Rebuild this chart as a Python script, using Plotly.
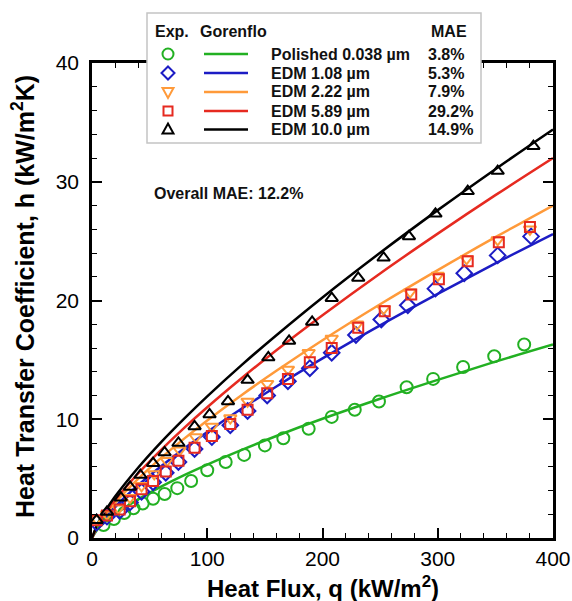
import plotly.graph_objects as go

W, H = 572, 601

# ---------------- data ----------------
Q_POL = [10, 19, 28, 36, 44, 53, 63, 74, 86, 100, 116, 132, 150, 166, 188, 208, 228, 249, 273, 296, 322, 349, 375]
H_POL = [1.1, 1.6, 2.1, 2.5, 2.9, 3.3, 3.7, 4.2, 4.8, 5.7, 6.4, 7.0, 7.8, 8.4, 9.2, 10.2, 10.8, 11.5, 12.7, 13.4, 14.4, 15.3, 16.3]

Q_108 = [4, 13, 24, 33, 43, 53, 64, 75, 89, 104, 120, 135, 152, 170, 189, 208, 229, 251, 274, 298, 323, 352, 381]
H_108 = [1.3, 1.8, 2.3, 3.0, 3.9, 4.7, 5.5, 6.4, 7.5, 8.5, 9.5, 10.7, 12.0, 13.2, 14.3, 15.6, 17.1, 18.4, 19.6, 21.0, 22.3, 23.8, 25.4]

Q_222 = [4, 13, 23, 33, 43, 54, 65, 76, 90, 104, 120, 135, 152, 170, 188, 208, 230, 253, 276, 300, 325, 352, 380]
H_222 = [1.6, 2.0, 2.5, 3.4, 4.4, 5.4, 6.5, 7.4, 8.5, 9.4, 10.1, 11.5, 13.0, 14.2, 15.6, 16.8, 18.0, 19.3, 20.7, 22.1, 23.5, 25.1, 26.0]

Q_589 = [4, 13, 24, 33, 43, 53, 64, 75, 89, 104, 120, 135, 152, 170, 189, 208, 231, 254, 277, 301, 326, 353, 380]
H_589 = [1.5, 1.9, 2.4, 3.1, 4.1, 4.8, 5.6, 6.5, 7.6, 8.6, 9.6, 10.8, 12.2, 13.4, 14.8, 16.0, 17.7, 19.1, 20.5, 21.8, 23.3, 24.9, 26.2]

Q_100 = [4, 13, 25, 33, 42, 53, 63, 75, 89, 102, 118, 135, 153, 171, 191, 208, 231, 253, 275, 298, 326, 352, 383]
H_100 = [1.5, 2.2, 3.4, 4.3, 5.3, 6.3, 7.2, 8.0, 9.4, 10.4, 11.5, 13.3, 15.2, 16.6, 18.2, 20.2, 21.9, 23.6, 25.4, 27.3, 29.2, 30.9, 33.0]

# Gorenflo correlation curves
Q_LINE = [0, 5, 10, 20, 40, 60, 80, 100, 130, 160, 200, 250, 300, 350, 400]
G_POL = [0, 0.76, 1.23, 2.00, 3.25, 4.32, 5.29, 6.18, 7.42, 8.59, 10.04, 11.73, 13.32, 14.85, 16.3]
G_108 = [0, 0.92, 1.55, 2.63, 4.45, 6.05, 7.54, 8.93, 10.90, 12.76, 15.12, 17.91, 20.56, 23.13, 25.6]
G_222 = [0, 1.05, 1.76, 2.96, 4.98, 6.75, 8.37, 9.90, 12.05, 14.08, 16.65, 19.68, 22.56, 25.33, 28.0]
G_589 = [0, 1.10, 1.87, 3.19, 5.43, 7.42, 9.27, 11.01, 13.47, 15.81, 18.76, 22.28, 25.63, 28.87, 32.0]
G_100 = [0, 1.21, 2.05, 3.49, 5.92, 8.08, 10.06, 11.93, 14.58, 17.08, 20.26, 24.02, 27.61, 31.06, 34.4]

LABELS = ["Polished 0.038 µm", "EDM 1.08 µm", "EDM 2.22 µm", "EDM 5.89 µm", "EDM 10.0 µm"]
MAE = ["3.8%", "5.3%", "7.9%", "29.2%", "14.9%"]
COLORS = ["#22b022", "#1c1cc4", "#ff9a3a", "#e62a20", "#000000"]
SYMBOLS = ["circle-open", "diamond-open", "triangle-down-open", "square-open", "triangle-up-open"]
MSIZE = [12, 12, 11, 10, 11]

X_TICKS = [0, 100, 200, 300, 400]
Y_TICKS = [0, 10, 20, 30, 40]

FONT = "Liberation Sans, Arial, Helvetica, sans-serif"

# plot area in pixels
PL, PR, PT, PB = 92, 553, 63, 538

def px(x):
    return x / W

def py(y):
    return 1 - y / H

fig = go.Figure()

exp_q = [Q_POL, Q_108, Q_222, Q_589, Q_100]
exp_h = [H_POL, H_108, H_222, H_589, H_100]
lines_g = [G_POL, G_108, G_222, G_589, G_100]

for i in range(5):
    fig.add_trace(go.Scatter(x=Q_LINE, y=lines_g[i], mode="lines",
                             line=dict(color=COLORS[i], width=2.5, shape="spline"),
                             showlegend=False, hoverinfo="skip"))
for i in range(5):
    fig.add_trace(go.Scatter(x=exp_q[i], y=exp_h[i], mode="markers",
                             marker=dict(symbol=SYMBOLS[i], size=MSIZE[i], color=COLORS[i],
                                         line=dict(color=COLORS[i], width=2)),
                             showlegend=False, name=LABELS[i]))

axis_common = dict(showline=True, linecolor="black", linewidth=2.5, mirror="allticks",
                   ticks="inside", ticklen=10, tickwidth=2, tickcolor="black",
                   showgrid=False, zeroline=False,
                   tickfont=dict(family=FONT, size=21, color="black"))

fig.update_xaxes(range=[0, 400], tickvals=X_TICKS, ticktext=[str(v) for v in X_TICKS],
                 domain=[px(PL), px(PR)],
                 minor=dict(dtick=20, ticks="inside", ticklen=5, tickwidth=1, tickcolor="black"),
                 ticklabelstandoff=0, **axis_common)
fig.update_yaxes(range=[0, 40], tickvals=Y_TICKS, ticktext=[str(v) for v in Y_TICKS],
                 domain=[py(PB), py(PT)],
                 minor=dict(dtick=2, ticks="inside", ticklen=5, tickwidth=1, tickcolor="black"),
                 ticklabelstandoff=6, **axis_common)

shapes = []
annotations = []

# legend box
shapes.append(dict(type="rect", xref="paper", yref="paper", layer="above",
                   x0=px(147), x1=px(481), y0=py(143), y1=py(13),
                   fillcolor="white", line=dict(color="#c4c4c4", width=1.5)))

row_y = [54, 73, 92, 111, 129.5]
mark_paths = [
    None,
    "M0,6.5 L6.5,0 L0,-6.5 L-6.5,0 Z",
    "M-5.5,4 L5.5,4 L0,-6 Z",
    None,
    "M-5.5,-4 L5.5,-4 L0,6 Z",
]
for i in range(5):
    yy = py(row_y[i])
    shapes.append(dict(type="line", xref="paper", yref="paper", layer="above",
                       x0=px(204), x1=px(248), y0=yy, y1=yy,
                       line=dict(color=COLORS[i], width=2.5)))
    common = dict(xref="paper", yref="paper", layer="above",
                  xsizemode="pixel", ysizemode="pixel",
                  xanchor=px(168), yanchor=yy,
                  line=dict(color=COLORS[i], width=2), fillcolor="rgba(0,0,0,0)")
    if i == 0:
        shapes.append(dict(type="circle", x0=-5.5, x1=5.5, y0=-5.5, y1=5.5, **common))
    elif i == 3:
        shapes.append(dict(type="rect", x0=-4.5, x1=4.5, y0=-4.5, y1=4.5, **common))
    else:
        shapes.append(dict(type="path", path=mark_paths[i], **common))
    annotations.append(dict(text="<b>%s</b>" % LABELS[i], xref="paper", yref="paper",
                            x=px(269), y=yy, xanchor="left", yanchor="middle", showarrow=False,
                            font=dict(family=FONT, size=16, color="#111111")))
    annotations.append(dict(text="<b>%s</b>" % MAE[i], xref="paper", yref="paper",
                            x=px(426), y=yy, xanchor="left", yanchor="middle", showarrow=False,
                            font=dict(family=FONT, size=16, color="#111111")))

for txt, xx, anchor in [("Exp.", 153, "left"), ("Gorenflo", 198, "left"), ("MAE", 469, "right")]:
    annotations.append(dict(text="<b>%s</b>" % txt, xref="paper", yref="paper",
                            x=px(xx), y=py(32), xanchor=anchor, yanchor="middle", showarrow=False,
                            font=dict(family=FONT, size=16, color="#111111")))

annotations.append(dict(text="<b>Overall MAE: 12.2%</b>", xref="paper", yref="paper",
                        x=px(152), y=py(194), xanchor="left", yanchor="middle", showarrow=False,
                        font=dict(family=FONT, size=16, color="#111111")))

# axis titles
annotations.append(dict(text="<b>Heat Flux, q (kW/m<sup>2</sup>)</b>", xref="paper", yref="paper",
                        x=px(323), y=py(587), xanchor="center", yanchor="middle", showarrow=False,
                        font=dict(family=FONT, size=24, color="black")))
annotations.append(dict(text="<b>Heat Transfer Coefficient, h (kW/m<sup>2</sup>K)</b>", xref="paper", yref="paper",
                        x=px(23), y=py(297), xanchor="center", yanchor="middle", showarrow=False,
                        textangle=-90, font=dict(family=FONT, size=25, color="black")))

fig.update_layout(width=W, height=H, margin=dict(l=0, r=0, t=0, b=0, autoexpand=False),
                  paper_bgcolor="white", plot_bgcolor="white",
                  shapes=shapes, annotations=annotations,
                  font=dict(family=FONT), showlegend=False)

fig.write_html("out.html", config={"displayModeBar": False},
               post_script="document.body.style.margin='0px';document.body.style.overflow='hidden';")
